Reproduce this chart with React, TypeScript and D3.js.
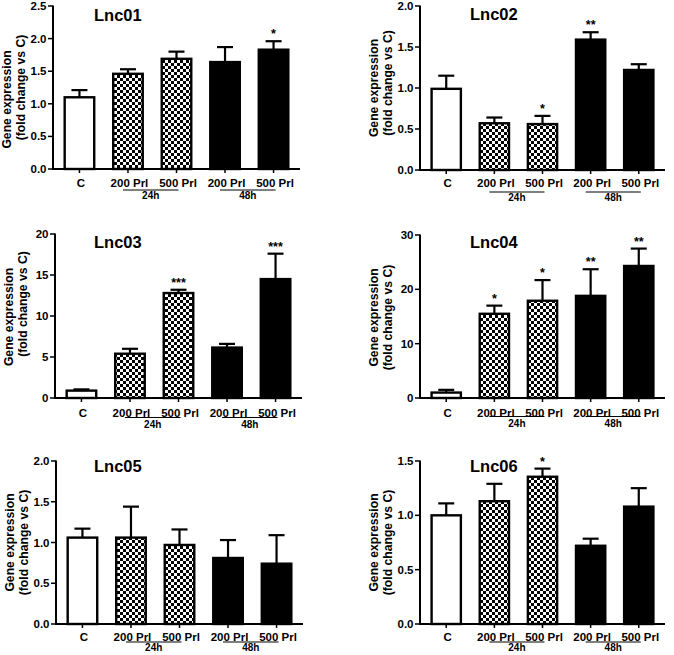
import React from "react";
import * as d3 from "d3";

// ---------- data ----------
const categories = ["C", "200 Prl", "500 Prl", "200 Prl", "500 Prl"];
const fills = ["white", "checker", "checker", "black", "black"];
const groups = ["24h", "48h"];
const groupMembers = [[1, 2], [3, 4]];

const titles = ["Lnc01", "Lnc02", "Lnc03", "Lnc04", "Lnc05", "Lnc06"];

const means01 = [1.1, 1.46, 1.69, 1.64, 1.83];
const errs01 = [0.11, 0.07, 0.11, 0.23, 0.13];
const sig01 = ["", "", "", "", "*"];

const means02 = [0.99, 0.57, 0.56, 1.59, 1.22];
const errs02 = [0.16, 0.07, 0.1, 0.09, 0.07];
const sig02 = ["", "", "*", "**", ""];

const means03 = [0.9, 5.4, 12.8, 6.15, 14.5];
const errs03 = [0.15, 0.6, 0.4, 0.45, 3.1];
const sig03 = ["", "", "***", "", "***"];

const means04 = [1.0, 15.5, 17.9, 18.8, 24.3];
const errs04 = [0.5, 1.5, 3.8, 4.9, 3.2];
const sig04 = ["", "*", "*", "**", "**"];

const means05 = [1.06, 1.06, 0.97, 0.81, 0.74];
const errs05 = [0.11, 0.38, 0.19, 0.22, 0.35];
const sig05 = ["", "", "", "", ""];

const means06 = [1.0, 1.13, 1.355, 0.72, 1.08];
const errs06 = [0.11, 0.16, 0.075, 0.065, 0.17];
const sig06 = ["", "", "*", "", ""];

const yMaxes = [2.5, 2.0, 20, 30, 2.0, 1.5];
const yTickSteps = [0.5, 0.5, 5, 10, 0.5, 0.5];
const yTickFormats = [".1f", ".1f", "d", "d", ".1f", ".1f"];

const allMeans = [means01, means02, means03, means04, means05, means06];
const allErrs = [errs01, errs02, errs03, errs04, errs05, errs06];
const allSigs = [sig01, sig02, sig03, sig04, sig05, sig06];

// ---------- layout ----------
const axisXs = [53, 420, 55, 420, 56, 420];
const plotTops = [6, 6, 234, 235, 461, 461];
const plotBottoms = [169, 170, 398, 398, 624, 624];
const plotWidths = [247, 245, 247, 245, 247, 245];
const titleDx = [41, 50, 39, 50, 38, 50];
const titleBaseDy = [15, 14, 14, 13, 11, 11];
const labelBase = [17.5, 17, 18.5, 18.5, 16.5, 16.5];
const underDy = [21, 22, 19.5, 18.5, 18, 18];
const groupBase = [30, 30.5, 29.5, 28.5, 27, 27];
const ylab1Dy = [12, 0, 1, 1, 0, 0];
const ylab2Dy = [0, -5, -12, 1, 0, 0];

const FONT = "'Liberation Sans', Arial, Helvetica, sans-serif";

function Panel({ i }: { i: number }) {
  const ax = axisXs[i];
  const top = plotTops[i];
  const bottom = plotBottoms[i];
  const w = plotWidths[i];
  const y = d3.scaleLinear().domain([0, yMaxes[i]]).range([bottom, top]);
  const x = d3
    .scaleBand<number>()
    .domain(d3.range(categories.length))
    .range([ax, ax + w])
    .paddingInner(0.35)
    .paddingOuter(0.22);
  const bw = x.bandwidth();
  const ticks = d3.range(0, yMaxes[i] + yTickSteps[i] / 2, yTickSteps[i]);
  const fmt = d3.format(yTickFormats[i]);
  const means = allMeans[i];
  const errs = allErrs[i];
  const sigs = allSigs[i];
  const midY = (top + bottom) / 2;

  return (
    <g>
      {/* y label */}
      <text
        transform={`translate(${ax - 46},${midY + ylab1Dy[i]}) rotate(-90)`}
        textAnchor="middle"
        dominantBaseline="central"
        fontFamily={FONT}
        fontWeight="bold"
        fontSize={12.2}
      >
        Gene expression
      </text>
      <text
        transform={`translate(${ax - 32},${midY + ylab2Dy[i]}) rotate(-90)`}
        textAnchor="middle"
        dominantBaseline="central"
        fontFamily={FONT}
        fontWeight="bold"
        fontSize={12.2}
      >
        (fold change vs C)
      </text>

      {/* bars */}
      {means.map((m, k) => {
        const x0 = x(k)!;
        const fill = fills[k] === "checker" ? "url(#checker)" : fills[k];
        return (
          <rect
            key={"b" + k}
            x={x0 + 1}
            y={y(m)}
            width={bw - 2}
            height={bottom - y(m)}
            fill={fill}
            stroke="black"
            strokeWidth={2.4}
          />
        );
      })}

      {/* error bars */}
      {means.map((m, k) => {
        const cx = x(k)! + bw / 2;
        const yt = y(m + errs[k]);
        return (
          <g key={"e" + k} stroke="black" strokeWidth={2.2}>
            <line x1={cx} x2={cx} y1={y(m)} y2={yt} />
            <line x1={cx - 8} x2={cx + 8} y1={yt} y2={yt} />
          </g>
        );
      })}

      {/* significance */}
      {sigs.map((s, k) =>
        s ? (
          <text
            key={"s" + k}
            x={x(k)! + bw / 2}
            y={y(means[k] + errs[k]) - 3}
            textAnchor="middle"
            fontFamily={FONT}
            fontWeight="bold"
            fontSize={12.5}
          >
            {s}
          </text>
        ) : null
      )}

      {/* y axis */}
      <line x1={ax} x2={ax} y1={top - 0.5} y2={bottom} stroke="black" strokeWidth={2} />
      {ticks.map((t) => (
        <g key={"t" + t}>
          <line x1={ax - 5} x2={ax} y1={y(t)} y2={y(t)} stroke="black" strokeWidth={1.5} />
          <text
            x={ax - 6.5}
            y={y(t)}
            textAnchor="end"
            dominantBaseline="central"
            fontFamily={FONT}
            fontWeight="bold"
            fontSize={11.5}
          >
            {fmt(t)}
          </text>
        </g>
      ))}

      {/* x axis */}
      <line x1={ax - 1} x2={ax + w} y1={bottom} y2={bottom} stroke="black" strokeWidth={2} />
      {categories.map((c, k) => {
        const cx = x(k)! + bw / 2;
        return (
          <g key={"c" + k}>
            <line x1={cx} x2={cx} y1={bottom} y2={bottom + 4} stroke="black" strokeWidth={1.5} />
            <text
              x={cx + 1.5}
              y={bottom + labelBase[i]}
              textAnchor="middle"
              fontFamily={FONT}
              fontWeight="bold"
              fontSize={11.5}
            >
              {c}
            </text>
          </g>
        );
      })}

      {/* group underlines */}
      {groups.map((g, gi) => {
        const [a, b] = groupMembers[gi];
        const x1 = x(a)! + bw / 2 - 5;
        const x2 = x(b)! + bw / 2 + 2;
        return (
          <g key={"g" + gi}>
            <line x1={x1} x2={x2} y1={bottom + underDy[i]} y2={bottom + underDy[i]} stroke="black" strokeWidth={1.2} />
            <text
              x={(x1 + x2) / 2}
              y={bottom + groupBase[i]}
              textAnchor="middle"
              fontFamily={FONT}
              fontWeight="bold"
              fontSize={10}
            >
              {g}
            </text>
          </g>
        );
      })}

      {/* title */}
      <text
        x={ax + titleDx[i]}
        y={top + titleBaseDy[i]}
        fontFamily={FONT}
        fontWeight="bold"
        fontSize={16.5}
      >
        {titles[i]}
      </text>
    </g>
  );
}

export default function App() {
  return (
    <svg
      width={674}
      height={655}
      style={{ position: "absolute", left: 0, top: 0, background: "white" }}
    >
      <defs>
        <pattern id="checker" width={6} height={6} patternUnits="userSpaceOnUse">
          <rect x={0} y={0} width={6} height={6} fill="white" />
          <rect x={0} y={0} width={3} height={3} fill="black" />
          <rect x={3} y={3} width={3} height={3} fill="black" />
        </pattern>
      </defs>
      <rect x={0} y={0} width={674} height={655} fill="white" />
      {titles.map((_, i) => (
        <Panel key={i} i={i} />
      ))}
    </svg>
  );
}
